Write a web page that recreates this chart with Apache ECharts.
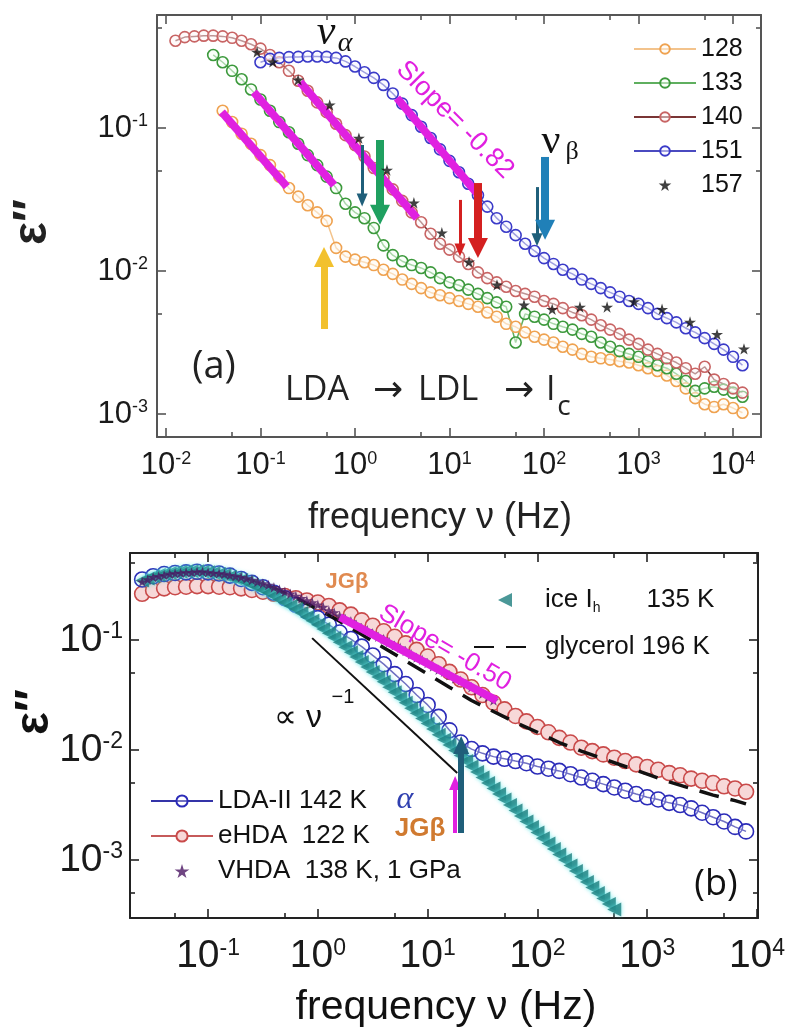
<!DOCTYPE html>
<html><head><meta charset="utf-8">
<script src="https://cdn.jsdelivr.net/npm/echarts@6/dist/echarts.min.js"></script>
<style>html,body{margin:0;padding:0;background:#fff}#c{width:785px;height:1029px}</style>
</head><body><div id="c"></div>
<script>
// ---------------- Panel (a) data ----------------
const freqA = [0.0126,0.0158,0.02,0.0251,0.0316,0.0398,0.0501,0.0631,0.0794,0.1,
  0.126,0.158,0.2,0.251,0.316,0.398,0.501,0.631,0.794,1,
  1.26,1.58,2,2.51,3.16,3.98,5.01,6.31,7.94,10,
  12.6,15.8,20,25.1,31.6,39.8,50.1,63.1,79.4,100,
  126,158,200,251,316,398,501,631,794,1000,
  1259,1585,1995,2512,3162,3981,5012,6310,7943,10000,12589];
const eps128 = [null,null,null,null,null,
  0.132,0.11,0.0912,0.0776,0.0646,0.055,0.0457,0.038,0.0331,0.0288,0.0257,0.0224,0.0145,0.0126,0.012,
  0.0115,0.011,0.0102,0.00955,0.00871,0.00813,0.00759,0.00708,0.00676,0.00646,0.00617,0.00589,0.00562,0.00513,
  0.00479,0.00427,0.00407,0.00372,0.00347,0.00331,0.00316,0.00295,0.00282,0.00263,0.00251,0.00245,0.0024,
  0.00234,0.00229,0.00219,0.00209,0.002,0.00186,0.0017,0.00151,0.00129,0.00117,0.00112,0.00117,0.0011,0.00102];
const eps133 = [null,null,null,null,
  0.324,0.288,0.251,0.219,0.186,0.158,0.132,0.11,0.0933,0.0776,0.0646,0.055,0.0457,0.038,0.0295,0.0257,
  0.0234,0.02,0.0151,0.0129,0.0117,0.011,0.0105,0.00977,0.00891,0.00832,0.00794,0.00741,0.00692,0.00646,
  0.00603,0.00562,0.00316,0.00501,0.00479,0.00457,0.00427,0.00407,0.00389,0.00363,0.00347,0.00316,0.00295,
  0.00275,0.00263,0.00251,0.00234,0.00219,0.00209,0.00191,0.0017,0.00145,0.00151,0.00155,0.00148,0.00141,0.00132];
const eps140 = [0.407,0.432,0.437,0.442,0.442,0.437,0.427,0.407,0.385,0.359,
  0.324,0.288,0.251,0.214,0.182,0.151,0.129,0.107,0.0891,0.0759,
  0.0631,0.0525,0.0447,0.0372,0.0309,0.0257,0.0219,0.0182,0.0155,0.0141,
  0.0126,0.0112,0.00977,0.00891,0.00832,0.00776,0.00724,0.00692,0.00661,0.00617,
  0.00589,0.0055,0.00513,0.0049,0.00457,0.00417,0.00389,0.00363,0.00331,0.00309,
  0.00282,0.00263,0.00245,0.00229,0.00209,0.00191,0.00214,0.00174,0.00162,0.00151,0.00141];
const eps151 = [null,null,null,null,null,null,null,null,null,
  0.288,0.304,0.309,0.313,0.314,0.316,0.316,0.314,0.309,0.292,0.269,
  0.245,0.224,0.2,0.174,0.148,0.123,0.102,0.0851,0.0708,0.0589,
  0.049,0.0407,0.0339,0.0282,0.0234,0.0204,0.0178,0.0155,0.0138,0.0123,
  0.0112,0.0102,0.00955,0.00871,0.00813,0.00759,0.00708,0.00661,0.00617,0.00589,
  0.0055,0.00501,0.00468,0.00437,0.00398,0.00372,0.00339,0.00309,0.00282,0.00251,0.00219];
const freq157 = [0.092,0.135,0.25,0.54,1.1,2.18,4.2,8.3,16.1,31.8,61.4,122,240,465,896,1774,3508,6774,13060];
const eps157 = [0.34,0.29,0.217,0.145,0.085,0.0508,0.030,0.0185,0.0116,0.0080,0.0058,0.0054,0.0056,0.0056,0.0061,0.0054,0.0044,0.0036,0.00285];
// magenta fits (a): [f1, f2] and [eps1, eps2]
const fitFreqA = [[0.039,0.19],[0.085,0.60],[0.263,4.53],[2.78,20.9]];
const fitEpsA  = [[0.129,0.0389],[0.178,0.0398],[0.209,0.0234],[0.162,0.0331]];
// arrows (a): [freq, eps at tail, eps at head]
const arrowsA = [[0.47,0.00393,0.0125],[1.19,0.076,0.0314],[1.84,0.0824,0.0247],[12.9,0.0314,0.014],[20.0,0.0412,0.0145],[84.3,0.0386,0.0165],[102.6,0.0627,0.0194]];

// ---------------- Panel (b) data ----------------
const freqB = [0.0251,0.0316,0.0398,0.0501,0.0631,0.0794,0.1,0.126,0.158,0.2,
  0.251,0.316,0.398,0.501,0.631,0.794,1,1.26,1.58,2,
  2.51,3.16,3.98,5.01,6.31,7.94,10,12.6,15.8,20,
  25.1,31.6,39.8,50.1,63.1,79.4,100,126,158,200,
  251,316,398,501,631,794,1000,1259,1585,1995,
  2512,3162,3981,5012,6310,7943];
const epsLDA = [0.355,0.380,0.398,0.407,0.412,0.417,0.412,0.403,0.385,0.359,
  0.331,0.302,0.269,0.240,0.209,0.182,0.158,0.138,0.117,0.102,
  0.0871,0.0724,0.0603,0.049,0.0398,0.0316,0.0257,0.02,0.0151,0.0117,
  0.0102,0.00933,0.00871,0.00832,0.00794,0.00759,0.00708,0.00676,0.00646,0.00603,
  0.00562,0.00525,0.0049,0.00457,0.00427,0.00398,0.00372,0.00355,0.00331,0.00316,
  0.00295,0.00269,0.00245,0.00224,0.002,0.00182];
const epsEHDA = [0.263,0.282,0.295,0.302,0.305,0.309,0.309,0.305,0.302,0.295,
  0.285,0.275,0.263,0.251,0.240,0.229,0.219,0.204,0.186,0.170,
  0.151,0.135,0.120,0.107,0.0933,0.0813,0.0708,0.0603,0.0513,0.0437,
  0.0372,0.0316,0.0269,0.0234,0.0204,0.0182,0.0162,0.0145,0.0129,0.0117,
  0.0105,0.00977,0.00912,0.00851,0.00794,0.00741,0.007,0.00661,0.00617,0.00589,
  0.0055,0.00525,0.00501,0.00468,0.00447,0.00417];
const freqFine = [0.0251,0.0282,0.0316,0.0355,0.0398,0.0447,0.0501,0.0562,0.0631,0.0708,
  0.0794,0.0891,0.1,0.112,0.126,0.141,0.158,0.178,0.2,0.224,
  0.251,0.282,0.316,0.355,0.398,0.447,0.501,0.562,0.631,0.708,
  0.794,0.891,1,1.12,1.26,1.41,1.58,1.78,2,2.24,
  2.51,2.82,3.16,3.55,3.98,4.47,5.01,5.62,6.31,7.08,
  7.94,8.91,10,11.2,12.6,14.1,15.8,17.8,20,22.4,
  25.1,28.2,31.6,35.5,39.8,44.7,50.1,56.2,63.1,70.8,
  79.4,89.1,100,112,126,141,158,178,200,224,
  251,282,316,355,398,447,501];
const epsVHDA = [0.339,0.355,0.372,0.380,0.389,0.398,0.403,0.407,0.412,0.412,
  0.417,0.417,0.412,0.407,0.403,0.398,0.389,0.380,0.372,0.363,
  0.351,0.339,0.327,0.316,0.302,0.288,0.275,0.263,0.251,0.240,
  0.229,0.219,0.209,0.200,0.186,0.178,0.166,0.155,0.148,0.138,
  0.129,0.123,0.115,0.107,0.102,0.0955,0.0891,0.0851,0.0794,0.0741,
  0.0692,0.0661,0.0617,0.0575,0.0537,0.0513,0.0479,0.0447,0.0427,0.0398,
  0.0372,0.0347,0.0324,0.0302,0.0282];
const epsIce = [0.347,0.363,0.380,0.389,0.398,0.407,0.412,0.417,0.422,0.422,
  0.422,0.417,0.412,0.407,0.398,0.389,0.376,0.363,0.351,0.335,
  0.316,0.302,0.285,0.269,0.251,0.234,0.219,0.204,0.191,0.176,
  0.162,0.150,0.138,0.126,0.115,0.105,0.0955,0.0861,0.0776,0.07,
  0.0631,0.0569,0.0513,0.0462,0.0417,0.0372,0.0335,0.0299,0.0269,0.024,
  0.0216,0.0193,0.0174,0.0155,0.0138,0.0124,0.0111,0.00989,0.00891,0.00794,
  0.00708,0.00631,0.00562,0.00501,0.00447,0.00398,0.00355,0.00316,0.00282,0.00251,
  0.00224,0.002,0.00178,0.00158,0.00141,0.00126,0.00112,0.001,0.000891,0.000794,
  0.000708,0.000631,0.000562,0.000501,0.000447,0.000398,0.000355];
const freqGly = [0.0251,0.0398,0.0631,0.1,0.158,0.251,0.398,0.631,1,1.58,2.51,3.98,6.31,10,15.8,25.1,39.8,63.1,100,158,251,398,631,1000,1585,2512,3981,6310,7943];
const epsGly = [0.355,0.398,0.417,0.417,0.389,0.347,0.295,0.240,0.191,0.148,0.112,0.0851,0.0646,0.049,0.0372,0.0282,0.0224,0.0178,0.0145,0.0117,0.00977,0.00832,0.00708,0.00603,0.00513,0.00447,0.00389,0.00347,0.00324];
const fitFreqB = [1.585, 42.7];
const fitEpsB = [0.162, 0.0282];
const propFreq = [0.887, 18.6];
const propEps = [0.104, 0.00618];
const arrowsB = [[17.8,0.00176,0.00501],[20.2,0.00176,0.0111]];

// tick values
const decA_x = [0.01,0.1,1,10,100,1000,10000], minA_x = [0.05,0.5,5,50,500,5000];
const decA_y = [0.001,0.01,0.1], minA_y = [0.005,0.05,0.5];
const decB_x = [0.1,1,10,100,1000,10000], minB_x = [0.05,0.5,5,50,500,5000];
const decB_y = [0.001,0.01,0.1], minB_y = [0.0005,0.005,0.05,0.5];

// ---------------- styling / layout ----------------
const FONT = '"Liberation Sans", Arial, sans-serif';
const SERIF = '"Liberation Serif", "DejaVu Serif", serif';
const HUM = '"Open Sans", "Noto Sans", sans-serif';
const MAG = '#E020E0';
const STAR = 'path://M50,0 L61,35 L98,35 L68,57 L79,91 L50,70 L21,91 L32,57 L2,35 L39,35 Z';
const TRI_L = 'path://M0,50 L100,0 L100,100 Z';

function pairs(f, e) { const o = []; for (let i = 0; i < f.length && i < e.length; i++) if (e[i] != null) o.push([f[i], e[i]]); return o; }
function sup(v) { return '{b|10}{s|' + Math.round(Math.log10(v)) + '}'; }

function axes(grid, min, max, majors, minors, pos1, pos2, color, fs, margin) {
  const rich = { b: { fontSize: fs, fontFamily: FONT, color: '#1a1a1a' }, s: { fontSize: Math.round(fs * 0.58), fontFamily: FONT, color: '#1a1a1a', verticalAlign: 'top' } };
  const base = { type: 'log', logBase: 10, gridIndex: grid, min: min, max: max, splitLine: { show: false }, splitArea: { show: false }, minorTick: { show: false }, silent: true };
  const line = { show: true, lineStyle: { color: color, width: 2 } };
  const tk = (vals, len) => ({ show: true, inside: true, length: len, customValues: vals, lineStyle: { color: color, width: 1.6 } });
  return [
    Object.assign({}, base, { position: pos1, axisLine: line, axisTick: tk(majors, 9), axisLabel: { show: true, customValues: majors, formatter: sup, margin: margin, rich: rich } }),
    Object.assign({}, base, { position: pos1, axisLine: { show: false }, axisTick: tk(minors, 5), axisLabel: { show: false } }),
    Object.assign({}, base, { position: pos2, axisLine: line, axisTick: tk(majors, 9), axisLabel: { show: false } }),
    Object.assign({}, base, { position: pos2, axisLine: { show: false }, axisTick: tk(minors, 5), axisLabel: { show: false } })
  ];
}

const xAxes = [].concat(
  axes(0, Math.pow(10, -2.095), Math.pow(10, 4.296), decA_x, minA_x, 'bottom', 'top', '#555', 31, 13),
  axes(1, Math.pow(10, -1.711), Math.pow(10, 4.009), decB_x, minB_x, 'bottom', 'top', '#222', 39, 19)
);
const yAxes = [].concat(
  axes(0, Math.pow(10, -3.161), Math.pow(10, -0.21), decA_y, minA_y, 'left', 'right', '#555', 31, 9),
  axes(1, Math.pow(10, -3.527), Math.pow(10, -0.209), decB_y, minB_y, 'left', 'right', '#222', 39, 7)
);

function circ(name, xi, data, lineColor, edge, fill, size) {
  return { name: name, type: 'line', xAxisIndex: xi, yAxisIndex: xi, data: data, symbol: 'circle', symbolSize: size, showSymbol: true,
    lineStyle: { color: lineColor, width: 1.5 }, itemStyle: { color: fill, borderColor: edge, borderWidth: 1.6 }, emphasis: { disabled: true }, z: 2 };
}
function seg(xi, data, color, width, z) {
  return { type: 'line', xAxisIndex: xi, yAxisIndex: xi, data: data, symbol: 'none', lineStyle: { color: color, width: width, cap: 'butt' }, emphasis: { disabled: true }, silent: true, z: z };
}
function arrowLines(list, colors, widths, heads) {
  return { silent: true, symbol: ['none', 'triangle'], label: { show: false }, emphasis: { disabled: true }, animation: false,
    data: list.map((a, i) => [{ coord: [a[0], a[1]], lineStyle: { color: colors[i], width: widths[i], type: 'solid', opacity: 1 } }, { coord: [a[0], a[2]], symbolSize: heads[i] }]) };
}

const series = [
  circ('128', 0, pairs(freqA, eps128), '#F3C38C', '#EFA250', 'rgba(255,250,240,0.5)', 11),
  circ('133', 0, pairs(freqA, eps133), '#5FAF5F', '#3C993C', 'rgba(245,255,245,0.5)', 11),
  circ('140', 0, pairs(freqA, eps140), '#7A3535', '#C86464', 'rgba(255,245,245,0.5)', 11),
  circ('151', 0, pairs(freqA, eps151), '#4A4AC0', '#3A3AC8', 'rgba(245,245,255,0.5)', 11)
];
fitFreqA.forEach((f, i) => series.push(seg(0, [[f[0], fitEpsA[i][0]], [f[1], fitEpsA[i][1]]], MAG, 8, 4)));
series.push({ name: '157', type: 'scatter', xAxisIndex: 0, yAxisIndex: 0, data: pairs(freq157, eps157), symbol: STAR, symbolSize: 12, symbolKeepAspect: true,
  itemStyle: { color: '#111' }, emphasis: { disabled: true }, z: 6,
  markLine: arrowLines(arrowsA, ['#F2C12E', '#1F5F7A', '#1FA060', '#D42020', '#D42020', '#1F5F7A', '#2080B8'], [7, 3, 8, 3, 8, 3, 8], [[20, 20], [11, 13], [20, 20], [11, 13], [20, 20], [11, 13], [20, 20]]) });

// panel (b)  (axis index 4 = first axis of grid 1)
series.push(circ('eHDA  122 K', 4, pairs(freqB, epsEHDA), '#C65A5A', '#C94A4A', '#F7D8D8', 15));
series.push(circ('LDA-II 142 K', 4, pairs(freqB, epsLDA), '#3434A8', '#2B2BB8', 'rgba(255,255,255,0.3)', 15));
series.push({ name: 'glycerol 196 K', type: 'line', xAxisIndex: 4, yAxisIndex: 4, data: pairs(freqGly, epsGly), symbol: 'circle', showSymbol: false,
  itemStyle: { color: 'rgba(0,0,0,0)', borderWidth: 0 }, lineStyle: { color: '#111', width: 3.5, type: [20, 12] }, emphasis: { disabled: true }, z: 3 });
series.push({ name: 'ice Ih', type: 'scatter', xAxisIndex: 4, yAxisIndex: 4, data: pairs(freqFine, epsIce), symbol: TRI_L, symbolSize: 14, symbolKeepAspect: true,
  itemStyle: { color: '#1E7E7E', shadowColor: '#56E6E6', shadowBlur: 4 }, emphasis: { disabled: true }, z: 4 });
series.push({ name: 'VHDA  138 K, 1 GPa', type: 'scatter', xAxisIndex: 4, yAxisIndex: 4, data: pairs(freqFine, epsVHDA), symbol: STAR, symbolSize: 11, symbolKeepAspect: true,
  itemStyle: { color: '#4B1763' }, emphasis: { disabled: true }, z: 5 });
series.push(seg(4, [[fitFreqB[0], fitEpsB[0]], [fitFreqB[1], fitEpsB[1]]], MAG, 8, 6));
const prop = seg(4, [[propFreq[0], propEps[0]], [propFreq[1], propEps[1]]], '#111', 2, 6);
prop.markLine = arrowLines(arrowsB, ['#E020E0', '#1F5F7A'], [4, 6], [[12, 14], [16, 18]]);
series.push(prop);

function txt(x, y, text, font, fill, extra, align) {
  const a = align || 'center';
  return Object.assign({ type: 'text', x: x, y: y, silent: true, z: 100,
    style: { text: text, font: font, fill: fill, align: a, verticalAlign: 'middle', textAlign: a, textVerticalAlign: 'middle' } }, extra || {});
}

const ARW = '"DejaVu Sans", sans-serif';
const graphics = [
  // panel a
  txt(33, 222, 'ε\u2033', 'bold 48px ' + FONT, '#222', { rotation: Math.PI / 2 }),
  txt(440, 518, 'frequency ν (Hz)', '36px ' + FONT, '#222'),
  txt(214, 367, '(a)', '38px ' + HUM, '#222'),
  txt(285, 390, 'LDA', '34px ' + HUM, '#222', null, 'left'),
  txt(388, 392, '→', '36px ' + ARW, '#222'),
  txt(418, 390, 'LDL', '34px ' + HUM, '#222', null, 'left'),
  txt(519, 392, '→', '36px ' + ARW, '#222'),
  txt(546, 390, 'I', '34px ' + HUM, '#222', null, 'left'),
  txt(564, 407, 'c', '28px ' + HUM, '#222'),
  txt(326, 33, 'ν', 'italic 42px ' + SERIF, '#111'),
  txt(345, 44, 'α', 'italic 28px ' + SERIF, '#111'),
  txt(455, 120, 'Slope= -0.82', '27px ' + FONT, MAG, { rotation: -Math.PI / 4 }),
  txt(551, 142, 'ν', '42px ' + SERIF, '#111'),
  txt(572, 152, 'β', '26px ' + SERIF, '#111'),
  // panel b
  txt(35, 712, 'ε\u2033', 'bold 48px ' + FONT, '#111', { rotation: Math.PI / 2 }),
  txt(446, 1008, 'frequency ν (Hz)', '41px ' + FONT, '#111'),
  txt(347, 582, 'JGβ', 'bold 22px ' + FONT, '#E08A50'),
  txt(445, 648, 'Slope= -0.50', '26px ' + FONT, MAG, { rotation: -Math.PI / 6 }),
  txt(298, 718, '∝ ν', '32px ' + FONT, '#111'),
  txt(343, 697, '−1', '20px ' + FONT, '#111'),
  txt(405, 800, 'α', 'italic 32px ' + SERIF, '#3040B0'),
  txt(420, 829, 'JGβ', 'bold 26px ' + FONT, '#D07A30'),
  txt(716, 885, '(b)', '36px ' + HUM, '#111')
];

const option = {
  animation: false,
  backgroundColor: '#fff',
  textStyle: { fontFamily: FONT },
  grid: [
    { left: 157, top: 15, width: 604, height: 422, outerBoundsMode: 'none', containLabel: false },
    { left: 130, top: 553, width: 628, height: 365, outerBoundsMode: 'none', containLabel: false }
  ],
  xAxis: xAxes,
  yAxis: yAxes,
  legend: [
    { data: ['128', '133', '140', '151', '157'], orient: 'vertical', left: 628, top: 30, itemWidth: 62, itemHeight: 12, itemGap: 6,
      selectedMode: false, textStyle: { fontSize: 25, fontFamily: FONT, color: '#111', lineHeight: 28 } },
    { data: ['ice Ih', 'glycerol 196 K'], orient: 'vertical', left: 468, top: 580, itemWidth: 62, itemHeight: 14, itemGap: 17,
      selectedMode: false, formatter: n => n === 'ice Ih' ? '{t|ice I}{h|h}{g|}{t|135 K}' : '{t|' + n + '}',
      textStyle: { fontSize: 26, fontFamily: FONT, color: '#111', lineHeight: 30, padding: [0, 0, 0, 4],
        rich: { t: { fontSize: 26, fontFamily: FONT, color: '#111' }, h: { fontSize: 14, fontFamily: FONT, color: '#111', verticalAlign: 'bottom', padding: [10, 0, 0, 0] }, g: { width: 46 } } } },
    { data: ['LDA-II 142 K', 'eHDA  122 K', 'VHDA  138 K, 1 GPa'], orient: 'vertical', left: 145, top: 782, itemWidth: 62, itemHeight: 14, itemGap: 7,
      selectedMode: false, textStyle: { fontSize: 26, fontFamily: FONT, color: '#111', lineHeight: 28 } }
  ],
  series: series,
  graphic: graphics
};

const chart = echarts.init(document.getElementById('c'), null, { renderer: 'canvas' });
chart.setOption(option);
</script></body></html>
